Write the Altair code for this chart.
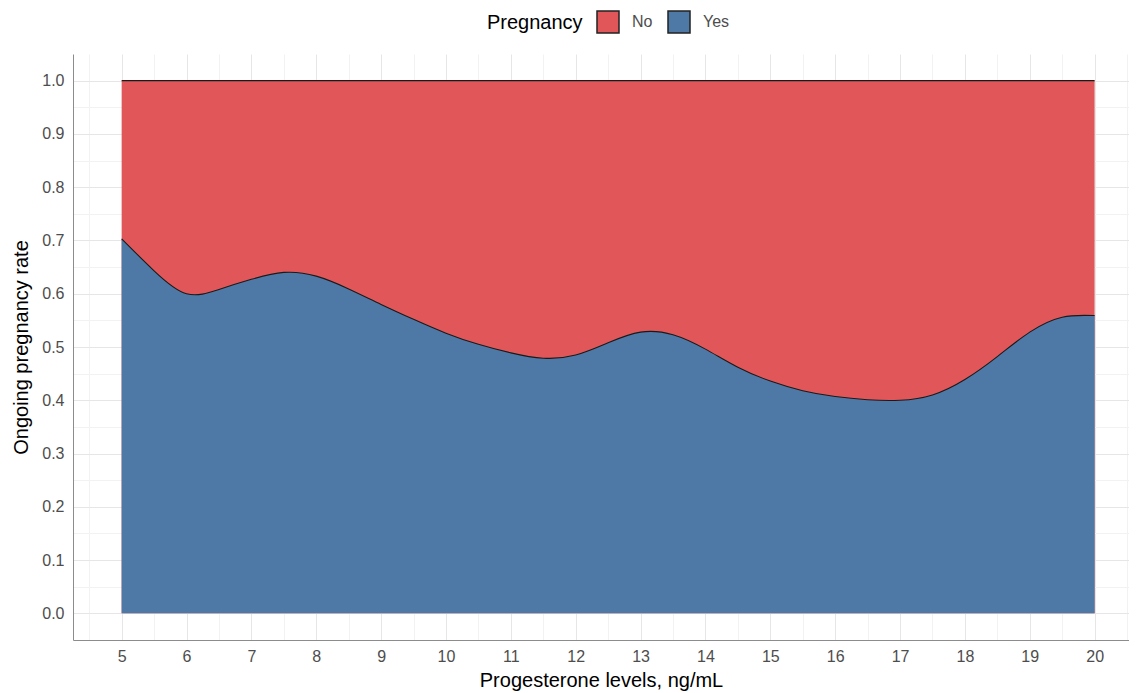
import altair as alt
import pandas as pd

# Progesterone levels (ng/mL)
x_vals = [5, 5.5, 6, 6.5, 7, 7.5, 8, 8.5, 9, 9.5, 10, 10.5, 11, 11.5, 12, 12.5,
          13, 13.5, 14, 14.5, 15, 15.5, 16, 16.5, 17, 17.5, 18, 18.5, 19, 19.5, 20]
# Ongoing pregnancy rate (Yes share)
yes_rate = [0.703, 0.643, 0.600, 0.608, 0.627, 0.640, 0.633, 0.609, 0.580, 0.552,
            0.526, 0.505, 0.489, 0.479, 0.485, 0.508, 0.528, 0.523, 0.496, 0.462,
            0.436, 0.418, 0.407, 0.401, 0.400, 0.410, 0.439, 0.482, 0.528, 0.556, 0.559]
groups = ["No", "Yes"]
colors = ["#E15759", "#4E79A7"]
x_ticks = [v / 2 for v in range(9, 42)]
y_ticks = [v / 20 for v in range(0, 21)]

yes_df = pd.DataFrame({"x": x_vals, "value": yes_rate})
no_df = pd.DataFrame({"x": x_vals, "value": [1.0] * len(x_vals)})
legend_df = pd.DataFrame({"x": [10.0, 10.0], "value": [0.1, 0.1], "group": groups})

FONT = "Liberation Sans"

x_axis = alt.Axis(
    values=x_ticks,
    labelExpr="datum.value % 1 == 0 ? format(datum.value, 'd') : ''",
    title="Progesterone levels, ng/mL",
    grid=True,
    gridColor=alt.condition("datum.value % 1 != 0", alt.value("#f2f2f2"), alt.value("#e6e6e6")),
    ticks=False,
    domainColor="#8c8c8c",
    labelFontSize=16,
    labelColor="#4d4d4d",
    labelPadding=8,
    titleFontSize=20,
    titleFontWeight="normal",
    titleColor="#000000",
    titlePadding=6,
    labelFont=FONT,
    titleFont=FONT,
)
y_axis = alt.Axis(
    values=y_ticks,
    labelExpr="abs(datum.value*10 - round(datum.value*10)) < 0.001 ? format(datum.value, '.1f') : ''",
    title="Ongoing pregnancy rate",
    grid=True,
    gridColor=alt.condition("abs(datum.value*10 - round(datum.value*10)) > 0.001", alt.value("#f2f2f2"), alt.value("#e6e6e6")),
    ticks=False,
    domainColor="#8c8c8c",
    labelFontSize=16,
    labelColor="#4d4d4d",
    labelPadding=9,
    titleFontSize=20,
    titleFontWeight="normal",
    titleColor="#000000",
    titlePadding=10,
    labelFont=FONT,
    titleFont=FONT,
)

x_enc = alt.X("x:Q", scale=alt.Scale(domain=[4.25, 20.53], nice=False, zero=False), axis=x_axis)
y_enc = alt.Y("value:Q", scale=alt.Scale(domain=[-0.05, 1.05], nice=False, zero=False), axis=y_axis)

# hidden legend carrier (covered by the areas)
legend_layer = alt.Chart(legend_df).mark_point(
    shape="square", filled=True, stroke="#000000", strokeWidth=1, opacity=1, size=20
).encode(
    x=x_enc,
    y=y_enc,
    fill=alt.Fill(
        "group:N",
        scale=alt.Scale(domain=groups, range=colors),
        legend=alt.Legend(
            title="Pregnancy",
            orient="none",
            legendX=414,
            legendY=-44,
            direction="horizontal",
            titleOrient="left",
            titleFontSize=20,
            titleFontWeight="normal",
            titleColor="#000000",
            titleFont=FONT,
            titlePadding=13,
            labelFontSize=16,
            labelColor="#4d4d4d",
            labelFont=FONT,
            labelOffset=12,
            columnPadding=12,
            symbolType="square",
            symbolSize=484,
            symbolStrokeColor="#222222",
            symbolStrokeWidth=1.5,
            symbolOpacity=1,
        ),
    ),
)

INTERP = "natural"

no_area = alt.Chart(no_df).mark_area(interpolate=INTERP, color=colors[0], opacity=1).encode(
    x=x_enc, y=y_enc, y2=alt.datum(0)
)
yes_area = alt.Chart(yes_df).mark_area(interpolate=INTERP, color=colors[1], opacity=1).encode(
    x=x_enc, y=y_enc, y2=alt.datum(0)
)
no_line = alt.Chart(no_df).mark_line(interpolate=INTERP, color="#1a1a1a", strokeWidth=1.1).encode(
    x=x_enc, y=y_enc
)
yes_line = alt.Chart(yes_df).mark_line(interpolate=INTERP, color="#1a1a1a", strokeWidth=1.1).encode(
    x=x_enc, y=y_enc
)

chart = alt.layer(legend_layer, no_area, yes_area, no_line, yes_line).properties(
    width=1056,
    height=586,
    padding={"left": 65, "top": 46, "right": 0, "bottom": 53},
    autosize="none",
).configure_view(stroke=None)

chart.save("out.html", embed_options={"renderer": "svg", "actions": False})
